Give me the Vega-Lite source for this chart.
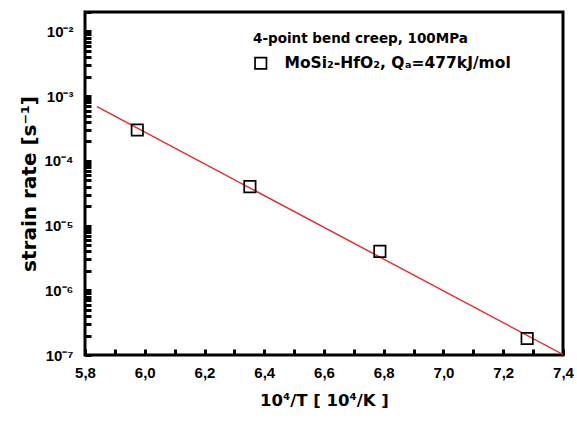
{
  "$schema": "https://vega.github.io/schema/vega-lite/v6.json",
  "width": 478,
  "height": 343,
  "autosize": "none",
  "padding": {"left": 85, "top": 12, "right": 14, "bottom": 71},
  "config": {
    "view": {"stroke": "black", "strokeWidth": 3}
  },
  "datasets": {
    "fit": [
      {"invT": 5.84, "rate": 0.00069},
      {"invT": 7.40, "rate": 0.000000102}
    ],
    "measured": [
      {"invT": 5.975, "rate": 0.00030, "series": "MoSi₂-HfO₂, Qₐ=477kJ/mol"},
      {"invT": 6.352, "rate": 0.000040, "series": "MoSi₂-HfO₂, Qₐ=477kJ/mol"},
      {"invT": 6.787, "rate": 0.0000040, "series": "MoSi₂-HfO₂, Qₐ=477kJ/mol"},
      {"invT": 7.28, "rate": 0.00000018, "series": "MoSi₂-HfO₂, Qₐ=477kJ/mol"}
    ]
  },
  "encoding": {
    "x": {"field": "invT", "type": "quantitative",
      "scale": {"domain": [5.8, 7.4], "nice": false, "zero": false},
      "axis": {"grid": false, "domain": false, "tickColor": "black", "tickWidth": 3, "tickSize": -6,
        "labelPadding": 16, "labelExpr": "round(datum.value * 10) % 2 == 0 ? replace(format(datum.value, '.1f'), '.', ',') : ''",
        "labelFont": "Liberation Sans", "labelFontWeight": "bold", "labelFontSize": 15, "labelColor": "black", "labelFlush": false,
        "title": "10⁴/T [ 10⁴/K ]", "titleFont": "DejaVu Sans", "titleFontWeight": "bold", "titleFontSize": 16.5, "titleColor": "black", "titlePadding": 12}},
    "y": {"field": "rate", "type": "quantitative",
      "scale": {"type": "log", "domain": [1e-7, 0.02], "nice": false},
      "axis": {"grid": false, "domain": false, "tickColor": "black", "tickWidth": 3, "tickSize": -6,
        "labelPadding": 18, "labelExpr": "abs(log(datum.value) / LN10 - round(log(datum.value) / LN10)) < 0.001 ? '10⁻' + ['⁰','¹','²','³','⁴','⁵','⁶','⁷','⁸','⁹'][-round(log(datum.value) / LN10)] : ''",
        "labelFont": "Liberation Sans", "labelFontWeight": "bold", "labelFontSize": 15, "labelColor": "black", "labelFlush": false,
        "title": "strain rate [s⁻¹]", "titleFont": "DejaVu Sans", "titleFontWeight": "bold", "titleFontSize": 20, "titleColor": "black", "titlePadding": 4}}
  },
  "layer": [
    {
      "data": {"name": "fit"},
      "mark": {"type": "line", "color": "#e8262b", "strokeWidth": 1.4, "clip": true}
    },
    {
      "data": {"name": "measured"},
      "mark": {"type": "point", "filled": false, "size": 130, "strokeWidth": 1.7, "color": "black", "opacity": 1, "clip": true},
      "encoding": {
        "shape": {"field": "series", "type": "nominal", "scale": {"range": ["square"]},
          "legend": {"orient": "none", "legendX": 168, "legendY": 20, "title": "4-point bend creep, 100MPa", "titleFont": "DejaVu Sans", "titleFontWeight": 700, "titleFontSize": 13.5, "titleColor": "black", "titleLimit": 400, "titlePadding": 10, "padding": 0, "symbolSize": 130, "symbolStrokeWidth": 1.7, "symbolStrokeColor": "black", "symbolFillColor": "transparent", "symbolOpacity": 1, "labelFont": "DejaVu Sans", "labelFontWeight": "bold", "labelFontSize": 15.5, "labelColor": "black", "labelOffset": 16, "labelLimit": 400, "offset": 0}}
      }
    }
  ]
}
